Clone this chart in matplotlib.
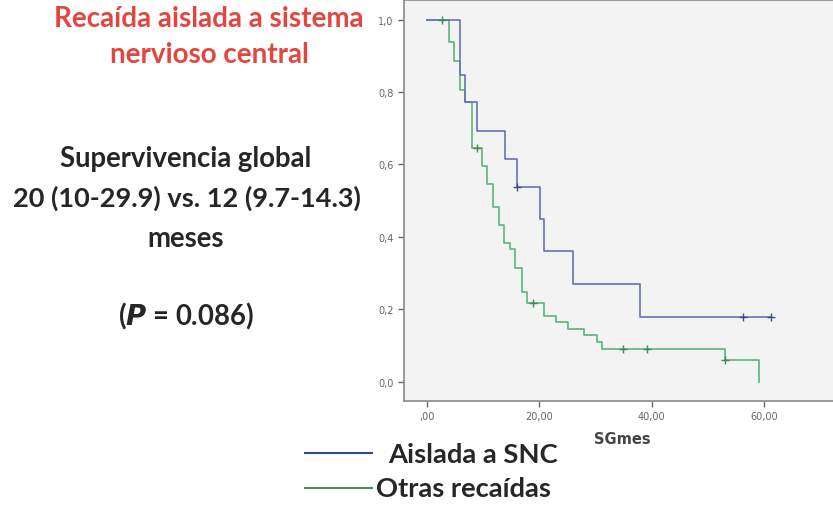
import numpy as np
import matplotlib.pyplot as plt

# Aislada a SNC
snc_t = [0, 5.9, 6.9, 8.9, 13.9, 16.0, 20.1, 20.9, 26.0, 38.0, 61.1]
snc_s = [1.0, 0.847, 0.773, 0.692, 0.615, 0.539, 0.45, 0.36, 0.27, 0.18, 0.18]
snc_cens = [16.0, 56.2, 61.1]

# Otras recaídas
otr_t = [0, 3.96, 4.9, 5.9, 6.9, 8.0, 9.9, 10.8, 11.8, 12.8, 13.7, 14.9, 15.8,
         17.0, 17.9, 20.9, 23.0, 25.2, 27.9, 30.2, 31.1, 53.1, 59.0]
otr_s = [1.0, 0.937, 0.886, 0.806, 0.773, 0.645, 0.597, 0.546, 0.482, 0.433,
         0.383, 0.367, 0.315, 0.247, 0.217, 0.183, 0.165, 0.146, 0.128, 0.11,
         0.092, 0.061, 0.0]
otr_cens = [2.8, 8.9, 18.9, 34.9, 39.1, 53.1]

xticks = [0, 20, 40, 60]
xticklabels = [',00', '20,00', '40,00', '60,00']
yticks = [0.0, 0.2, 0.4, 0.6, 0.8, 1.0]
yticklabels = ['0,0', '0,2', '0,4', '0,6', '0,8', '1,0']

blue = '#6474b8'
green = '#5cb47a'


def level_at(t, times, surv):
    # valor de la escalera en el tiempo t
    idx = np.searchsorted(times, t, side='right') - 1
    return surv[idx]


fig = plt.figure(figsize=(8.33, 5.10), dpi=100)
ax = fig.add_axes([0.485, 0.2124, 0.5407, 0.785])
ax.set_facecolor('#f3f3f3')

ax.step(otr_t, otr_s, where='post', color=green, lw=1.2, zorder=3)
ax.step(snc_t, snc_s, where='post', color=blue, lw=1.2, zorder=4)

for t in otr_cens:
    ax.plot(t, level_at(t, otr_t, otr_s), marker='+', ms=6, mew=1.0,
            color='#3f8a57', zorder=5)
for t in snc_cens:
    ax.plot(t, level_at(t, snc_t, snc_s), marker='+', ms=6, mew=1.0,
            color='#3e4c8e', zorder=5)

ax.set_xlim(-4, 76)
ax.set_ylim(-0.052, 1.053)
ax.set_xticks(xticks)
ax.set_xticklabels(xticklabels)
ax.set_yticks(yticks)
ax.set_yticklabels(yticklabels)
ax.tick_params(colors='#666666', labelsize=7, length=4, width=1)
for sp in ax.spines.values():
    sp.set_color('#8a8a8a')
    sp.set_linewidth(1.2)
ax.set_xlabel('SGmes', fontsize=10.5, fontweight='bold', color='#444444')
ax.xaxis.set_label_coords(0.484, -0.076)

# --- textos de la izquierda ---
font = 'Lato'
red = '#e2463f'
fig.text(209 / 833, 1 - 27 / 510, 'Recaída aislada a sistema', ha='center',
         va='baseline', fontsize=20, fontweight='bold', color=red, family=font)
fig.text(209 / 833, 1 - 63 / 510, 'nervioso central', ha='center',
         va='baseline', fontsize=20, fontweight='bold', color=red, family=font)

dark = '#262626'
fig.text(186 / 833, 1 - 167 / 510, 'Supervivencia global', ha='center',
         va='baseline', fontsize=19.8, fontweight='bold', color=dark,
         family=font)
fig.text(187 / 833, 1 - 207 / 510, '20 (10-29.9) vs. 12 (9.7-14.3)',
         ha='center', va='baseline', fontsize=19.5, fontweight='bold',
         color=dark, family=font)
fig.text(186 / 833, 1 - 247 / 510, 'meses', ha='center', va='baseline',
         fontsize=19.8, fontweight='bold', color=dark, family=font)
fig.text(186 / 833, 1 - 325 / 510, r'($\mathbfit{P}$ = 0.086)', ha='center',
         va='baseline', fontsize=19.8, fontweight='bold', color=dark,
         family=font)

# --- leyenda manual ---
fig.add_artist(plt.Line2D([305 / 833, 372 / 833], [1 - 454 / 510] * 2,
                          color='#34488a', lw=1.5))
fig.add_artist(plt.Line2D([305 / 833, 372 / 833], [1 - 489 / 510] * 2,
                          color='#4a8c5c', lw=1.5))
fig.text(388 / 833, 1 - 463 / 510, 'Aislada a SNC', ha='left', va='baseline',
         fontsize=19.7, fontweight='bold', color=dark, family=font)
fig.text(376 / 833, 1 - 497 / 510, 'Otras recaídas', ha='left',
         va='baseline', fontsize=19.7, fontweight='bold', color=dark,
         family=font)

fig.savefig('out.png', dpi=100)
